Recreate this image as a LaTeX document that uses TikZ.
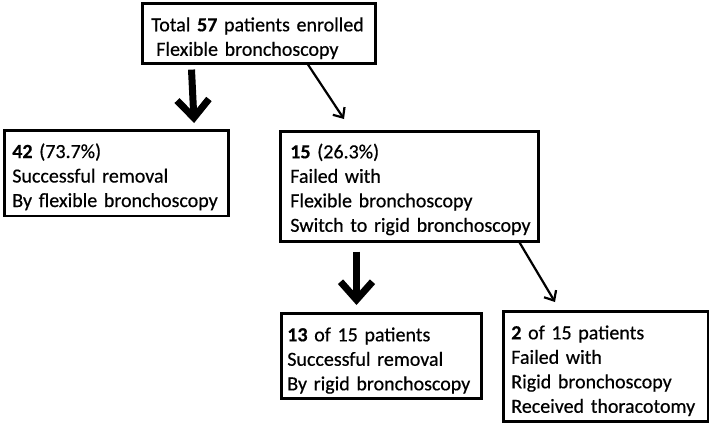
\documentclass[tikz,border=0pt]{standalone}
\usepackage{fontspec}
\setmainfont{Carlito}[FakeBold=0.5, BoldFeatures={FakeBold=0.5}]
\usetikzlibrary{arrows.meta,calc}
\newcommand\toppad[1]{\rule{0pt}{#1}}
\newcommand\botpad[1]{\rule[-#1]{0pt}{#1}}
\tikzset{
  box/.style={draw=black, line width=2.6pt, anchor=north west, align=left,
    inner ysep=0pt, font={\fontsize{20}{24.5}\selectfont}},
  bigarrow/.style={line width=7pt, -{Straight Barb[length=18pt,width=32pt]}},
  thinarrow/.style={line width=2.2pt, -{Straight Barb[length=8pt,width=14pt]}}
}
\begin{document}
\begin{tikzpicture}[x=1pt,y=-1pt]
\useasboundingbox (0,0) rectangle (709,423);
\node[box, text width=215pt, inner xsep=9pt] (n0) at (141,2)
  {\mbox{\toppad{28pt}Total \textbf{57} patients enrolled}\\
   \mbox{\hspace*{5pt}Flexible bronchoscopy\botpad{7.5pt}}};
\node[box, text width=208pt, inner xsep=8pt] (n1) at (3,129)
  {\mbox{\toppad{27.7pt}\textbf{42} (73.7\%)}\\
   \mbox{Successful removal}\\
   \mbox{By flexible bronchoscopy\botpad{9pt}}};
\node[box, text width=238pt, inner xsep=10pt] (n2) at (279,130)
  {\mbox{\toppad{27pt}\textbf{15} (26.3\%)}\\
   \mbox{Failed with}\\
   \mbox{Flexible bronchoscopy}\\
   \mbox{Switch to rigid bronchoscopy\botpad{9.5pt}}};
\node[box, text width=188pt, inner xsep=6pt] (n3) at (280,312)
  {\mbox{\toppad{28pt}\textbf{13} of 15 patients}\\
   \mbox{Successful removal}\\
   \mbox{By rigid bronchoscopy\botpad{8pt}}};
\node[box, text width=189pt, inner xsep=8pt] (n4) at (502,310)
  {\mbox{\toppad{28pt}\textbf{2} of 15 patients}\\
   \mbox{Failed with}\\
   \mbox{Rigid bronchoscopy}\\
   \mbox{Received thoracotomy\botpad{8.5pt}}};
\draw[bigarrow] ($(n0.south west)+(50.5,5)$) -- ($(n1.north east)+(-35.5,-6)$);
\draw[thinarrow] ($(n0.south west)+(167,0)$) -- ($(n2.north west)+(65,-11)$);
\draw[bigarrow] ($(n2.south west)+(77.5,9)$) -- ($(n3.north west)+(76.5,-7)$);
\draw[thinarrow] ($(n2.south east)+(-20,0)$) -- ($(n4.north west)+(53,-8)$);
\end{tikzpicture}
\end{document}
